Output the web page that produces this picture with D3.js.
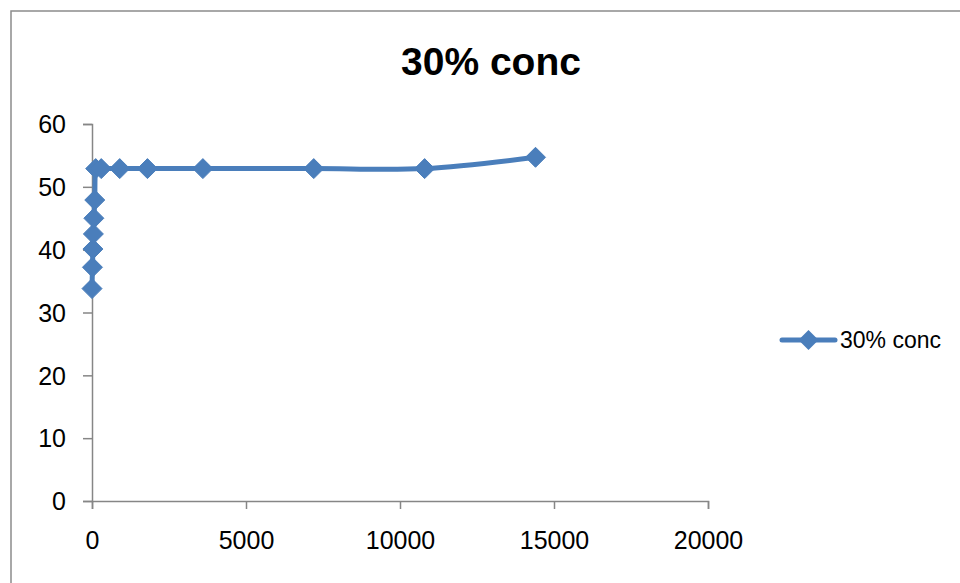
<!DOCTYPE html>
<html>
<head>
<meta charset="utf-8">
<script src="https://cdn.jsdelivr.net/npm/d3@7"></script>
<style>
  html, body { margin: 0; padding: 0; background: #fff; }
  svg { display: block; font-family: "Liberation Sans", Arial, sans-serif; }
</style>
</head>
<body>
<svg id="chart" width="960" height="583"></svg>
<script>
// Elapsed time (s) and measured values for the 30% concentration run
const seriesName = "30% conc";
const times  = [0, 15, 30, 45, 60, 90, 120, 300, 900, 1800, 3600, 7200, 10800, 14400];
const values = [33.8, 37.2, 40.1, 42.5, 45.0, 47.9, 52.9, 52.9, 52.9, 52.9, 52.9, 52.9, 52.9, 54.7];
const xTicks = [0, 5000, 10000, 15000, 20000];
const yTicks = [0, 10, 20, 30, 40, 50, 60];

const blue = "#4a7ebb";
const axisGray = "#868686";

const svg = d3.select("#chart");

// chart area frame
svg.append("rect")
  .attr("x", 11).attr("y", 11)
  .attr("width", 1000).attr("height", 700)
  .attr("fill", "#fff")
  .attr("stroke", "#8c8c8c").attr("stroke-width", 1.5);

const x = d3.scaleLinear().domain([0, 20000]).range([92, 708]);
const y = d3.scaleLinear().domain([0, 60]).range([501, 124]);

// title
svg.append("text")
  .attr("x", 491).attr("y", 75)
  .attr("text-anchor", "middle")
  .attr("font-size", 39).attr("font-weight", "bold")
  .attr("fill", "#000")
  .text(seriesName);

// axes
const xAxis = svg.append("g")
  .attr("transform", `translate(0,${y(0)})`)
  .call(d3.axisBottom(x).tickValues(xTicks).tickFormat(d3.format("d")).tickSize(8).tickPadding(22));
const yAxis = svg.append("g")
  .attr("transform", `translate(${x(0)},0)`)
  .call(d3.axisLeft(y).tickValues(yTicks).tickSize(9).tickPadding(17));

[xAxis, yAxis].forEach(g => {
  g.select(".domain").attr("stroke", axisGray).attr("stroke-width", 1.5);
  g.selectAll(".tick line").attr("stroke", axisGray).attr("stroke-width", 1.5);
  g.selectAll(".tick text")
    .attr("fill", "#000")
    .attr("font-size", 25)
    .attr("font-family", "\"Liberation Sans\", Arial, sans-serif");
});
yAxis.selectAll(".tick text").attr("dy", "0.35em");

// series line (smoothed)
const pts = times.map((t, i) => [t, values[i]]);
const line = d3.line()
  .x(d => x(d[0])).y(d => y(d[1]))
  .curve(d3.curveCatmullRom.alpha(0));

svg.append("path")
  .datum(pts)
  .attr("fill", "none")
  .attr("stroke", blue)
  .attr("stroke-width", 5)
  .attr("stroke-linejoin", "round")
  .attr("stroke-linecap", "round")
  .attr("d", line);

// diamond markers
const diamond = r => `M0,${-r}L${r},0L0,${r}L${-r},0Z`;
svg.append("g").selectAll("path")
  .data(pts)
  .join("path")
  .attr("transform", d => `translate(${x(d[0])},${y(d[1])})`)
  .attr("d", diamond(10))
  .attr("fill", blue)
  .attr("stroke", blue)
  .attr("stroke-width", 1);

// legend
const lg = svg.append("g").attr("transform", "translate(782,340)");
lg.append("line")
  .attr("x1", 0).attr("x2", 53).attr("y1", 0).attr("y2", 0)
  .attr("stroke", blue).attr("stroke-width", 5).attr("stroke-linecap", "round");
lg.append("path")
  .attr("transform", "translate(26.5,0)")
  .attr("d", diamond(10))
  .attr("fill", blue);
lg.append("text")
  .attr("x", 58).attr("y", 0).attr("dy", "0.35em")
  .attr("font-size", 23)
  .attr("fill", "#000")
  .text(seriesName);
</script>
</body>
</html>
